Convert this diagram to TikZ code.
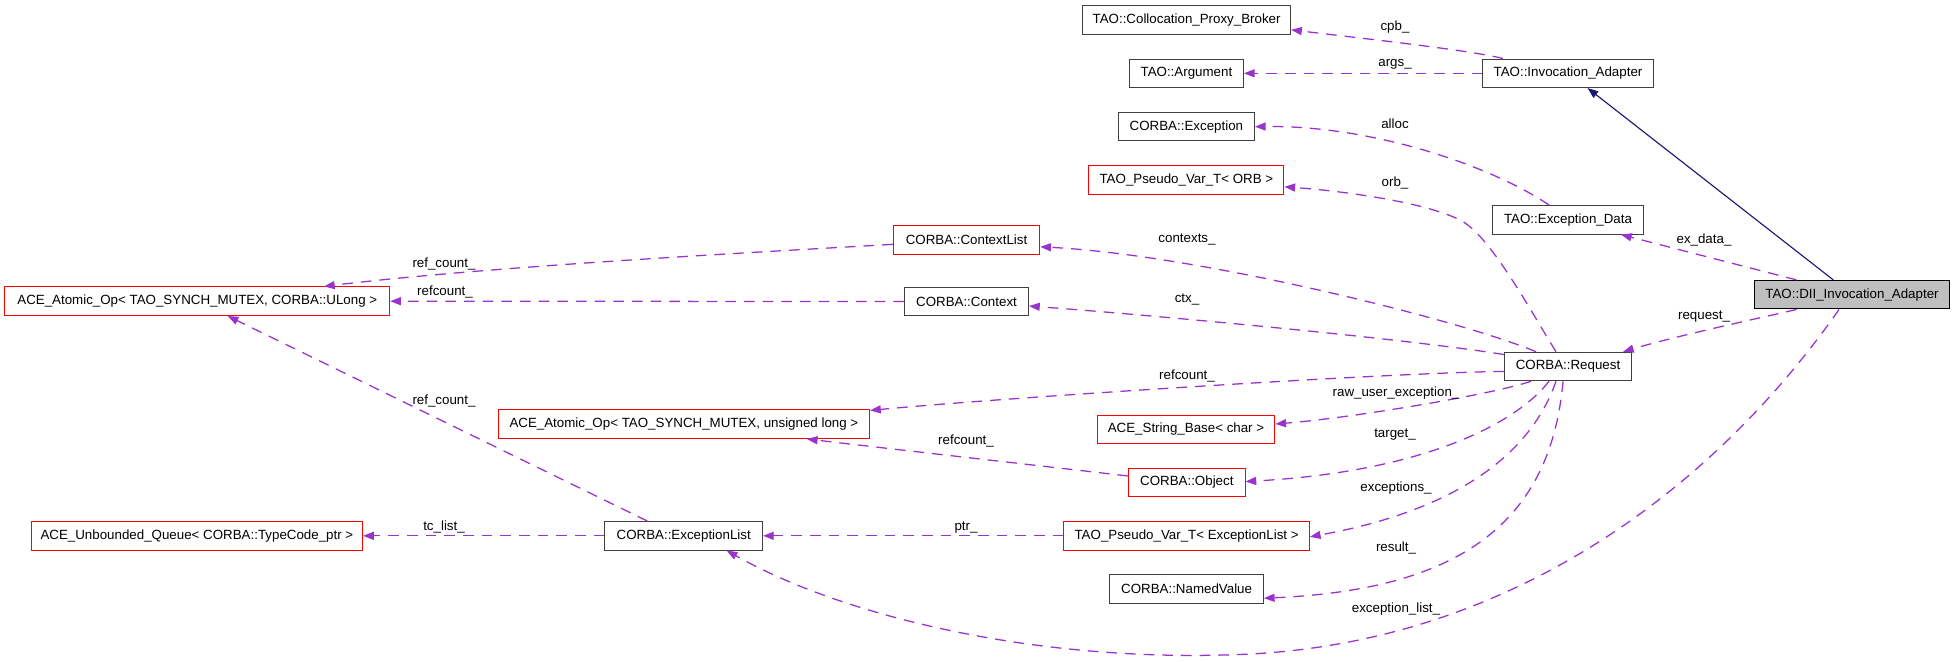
\documentclass[tikz,border=0pt]{standalone}
\usepackage{fontspec}
\setmainfont{Liberation Sans}
\usetikzlibrary{arrows.meta,calc}
\definecolor{depc}{HTML}{9A32CD}
\definecolor{inhc}{HTML}{191970}
\definecolor{fillg}{HTML}{BFBFBF}
\definecolor{bdark}{HTML}{404040}
\begin{document}
\begin{tikzpicture}[x=0.75pt,y=-0.75pt,
  cls/.style={draw=bdark, line width=0.8pt, minimum height=28.5*0.75pt, minimum width=#1*0.75pt, inner sep=0pt, font=\fontsize{10}{12}\selectfont},
  rcls/.style={cls=#1, draw=red},
  dep/.style={draw=depc, dash pattern=on 8pt off 6pt, line width=0.95pt, -{Triangle[length=8pt,width=6pt,fill=depc]}},
  inh/.style={draw=inhc, line width=0.85pt, -{Triangle[length=8pt,width=6pt,fill=inhc]}},
  lbl/.style={font=\fontsize{10}{12}\selectfont, inner sep=0pt}]
\useasboundingbox (0,0) rectangle (1955,661);
\fill[white] (0,0) rectangle (1955,661);
% nodes
\node[cls=208] (cpb) at (1186.6,19.8) {TAO::Collocation\_Proxy\_Broker};
\node[cls=114] (arg) at (1186.4,73.3) {TAO::Argument};
\node[cls=136] (exc) at (1186.4,126.7) {CORBA::Exception};
\node[rcls=195] (orb) at (1186.4,179.8) {TAO\_Pseudo\_Var\_T< ORB >};
\node[rcls=146.4] (ctxl) at (966.5,239.8) {CORBA::ContextList};
\node[cls=170.3] (ia) at (1568,73.3) {TAO::Invocation\_Adapter};
\node[cls=151.1] (exd) at (1568,219.8) {TAO::Exception\_Data};
\node[cls=195.4, fill=fillg, draw=black] (dii) at (1852,294.7) {TAO::DII\_Invocation\_Adapter};
\node[cls=124] (ctx) at (966.5,301.5) {CORBA::Context};
\node[rcls=177.7] (strb) at (1186,429.5) {ACE\_String\_Base< char >};
\node[rcls=371.4] (aaoul) at (683.9,424.2) {ACE\_Atomic\_Op< TAO\_SYNCH\_MUTEX, unsigned long >};
\node[rcls=384.8] (aaou) at (197.3,301.2) {ACE\_Atomic\_Op< TAO\_SYNCH\_MUTEX, CORBA::ULong >};
\node[rcls=116.5] (obj) at (1186.8,482.5) {CORBA::Object};
\node[rcls=245.6] (pvel) at (1186.6,535.8) {TAO\_Pseudo\_Var\_T< ExceptionList >};
\node[cls=153.6] (nv) at (1186.6,589.2) {CORBA::NamedValue};
\node[cls=157.6] (excl) at (683.7,535.8) {CORBA::ExceptionList};
\node[rcls=331.3] (uq) at (196.9,535.8) {ACE\_Unbounded\_Queue< CORBA::TypeCode\_ptr >};
\node[cls=127.1] (req) at (1568,366.5) {CORBA::Request};
% edges
\draw[dep] ($(ia.north)+(-65,0)$) .. controls (1470,50) and (1350,37) .. ($(cpb.east)+(0,10)$);
\draw[dep] (ia.west) -- (arg.east);
\draw[dep] ($(exd.north)+(-19,0)$) .. controls (1490,165) and (1370,125) .. (exc.east);
\draw[dep] ($(req.north)+(-12,0)$) .. controls (1530,310) and (1490,235) .. (1460,220) .. controls (1420,200) and (1330,190) .. ($(orb.east)+(0,7)$);
\draw[dep] ($(req.north)+(-32,0)$) .. controls (1460,320) and (1200,255) .. ($(ctxl.east)+(0,7)$);
\draw[dep] ($(req.west)+(0,-12)$) .. controls (1400,338) and (1150,315) .. ($(ctx.east)+(0,4.5)$);
\draw[dep] ($(req.west)+(0,5)$) .. controls (1400,372) and (1000,398) .. ($(aaoul.north east)+(0,1)$);
\draw[dep] ($(req.south)+(-37,0)$) .. controls (1490,395) and (1350,418) .. ($(strb.east)+(0,-5.5)$);
\draw[dep] ($(req.south)+(-19,0)$) .. controls (1515,425) and (1420,472) .. ($(obj.east)+(0,-1)$);
\draw[dep] ($(req.south)+(-12,0)$) .. controls (1525,470) and (1430,515) .. ($(pvel.east)+(0,1)$);
\draw[dep] ($(req.south)+(-5,0)$) .. controls (1550,530) and (1450,590) .. ($(nv.east)+(0,9)$);
\draw[dep] ($(dii.south)+(-13,0)$) .. controls (1720,480) and (1520,640) .. (1250,654) .. controls (1050,664) and (850,620) .. ($(excl.south)+(43,0)$);
\draw[dep] ($(dii.north)+(-55.5,0)$) -- ($(exd.south)+(53,0)$);
\draw[dep] ($(dii.south)+(-55.5,0)$) .. controls (1760,318) and (1680,335) .. ($(req.north)+(55,0)$);
\draw[inh] ($(dii.north)+(-18.7,0)$) -- ($(ia.south)+(19.6,0)$);
\draw[dep] ($(ctxl.west)+(0,4.5)$) .. controls (800,250) and (500,265) .. ($(aaou.north)+(126.7,0)$);
\draw[dep] (ctx.west) -- (aaou.east);
\draw[dep] ($(excl.north)+(-36.4,0)$) -- ($(aaou.south)+(30.4,0)$);
\draw[dep] (excl.west) -- (uq.east);
\draw[dep] (pvel.west) -- (excl.east);
\draw[dep] ($(obj.west)+(0,-6.5)$) .. controls (1060,468) and (900,450) .. ($(aaoul.south)+(123,0)$);
% labels
\node[lbl] (l1) at (1395,27) {cpb\_};
\node[lbl] (l2) at (1395,64) {args\_};
\node[lbl] (l3) at (1395,124) {alloc};
\node[lbl] (l4) at (1395,183) {orb\_};
\node[lbl] (l5) at (1187,240) {contexts\_};
\node[lbl] (l6) at (1187,300) {ctx\_};
\node[lbl] (l7) at (1187,376) {refcount\_};
\node[lbl] (l8) at (1396,393) {raw\_user\_exception\_};
\node[lbl] (l9) at (1395,435) {target\_};
\node[lbl] (l10) at (1396,488) {exceptions\_};
\node[lbl] (l11) at (1396,548) {result\_};
\node[lbl] (l12) at (1396,609) {exception\_list\_};
\node[lbl] (l13) at (1704,240) {ex\_data\_};
\node[lbl] (l14) at (1704,317) {request\_};
\node[lbl] (l15) at (444,264) {ref\_count\_};
\node[lbl] (l16) at (445,292) {refcount\_};
\node[lbl] (l17) at (444,401) {ref\_count\_};
\node[lbl] (l18) at (444,527) {tc\_list\_};
\node[lbl] (l19) at (966,528) {ptr\_};
\node[lbl] (l20) at (966,441) {refcount\_};
\end{tikzpicture}
\end{document}
